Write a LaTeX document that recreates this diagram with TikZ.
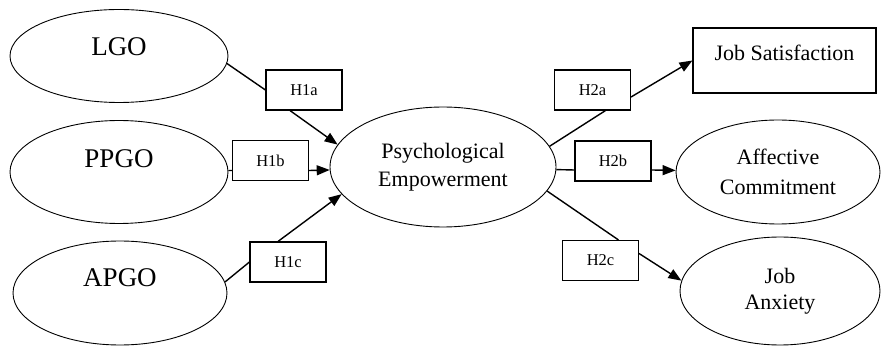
\documentclass[tikz,border=0pt]{standalone}
\usepackage{fontspec}
\setmainfont{Liberation Serif}
\usetikzlibrary{shapes.geometric,arrows.meta,calc}
\begin{document}
\begin{tikzpicture}[x=1pt,y=-1pt,
  ell/.style={ellipse,draw,line width=0.9pt,inner sep=0pt,align=center},
  big/.style={font=\fontsize{27}{30}\selectfont},
  med/.style={font=\fontsize{22}{28}\selectfont},
  hbox/.style={rectangle,draw,line width=1.1pt,minimum width=76pt,minimum height=40pt,inner sep=0pt,font=\fontsize{16.5}{18}\selectfont},
  con/.style={line width=1.4pt},
  arr/.style={con,-{Triangle[length=13pt,width=10pt]}}]
\useasboundingbox (0,0) rectangle (881,347);
% left constructs
\node[ell,big,minimum width=218pt,minimum height=93pt,text height=12pt,text depth=12pt] (lgo) at (119,56) {LGO};
\node[ell,big,minimum width=218pt,minimum height=103pt,text height=10pt,text depth=18pt] (ppgo) at (119,172) {PPGO};
\node[ell,big,minimum width=214pt,minimum height=104pt,text height=9pt,text depth=21pt] (apgo) at (120,293) {APGO};
% mediator
\node[ell,med,minimum width=226pt,minimum height=120pt] (psych) at (443,167) {Psychological\\Empowerment};
% outcomes
\node[rectangle,draw,line width=1.1pt,med,minimum width=183pt,minimum height=65pt,text height=10pt,text depth=10pt] (js) at (784.5,60.5) {Job Satisfaction};
\node[ell,med,minimum width=204pt,minimum height=104pt,font=\fontsize{22}{30}\selectfont] (ac) at (778,172) {Affective\\Commitment};
\node[ell,med,minimum width=200pt,minimum height=108pt,font=\fontsize{22}{26}\selectfont] (ja) at (780,291) {Job\\Anxiety};
% hypothesis boxes
\node[hbox] (h1a) at (304,90) {H1a};
\node[hbox] (h1b) at (270.5,160.5) {H1b};
\node[hbox] (h1c) at (288,262) {H1c};
\node[hbox] (h2a) at (592.5,90) {H2a};
\node[hbox] (h2b) at (613,161) {H2b};
\node[hbox] (h2c) at (600.5,260.5) {H2c};
% connectors
\draw[con] (lgo.-4) -- (h1a.west);
\draw[arr] ([xshift=-14pt]h1a.south) -- (psych.168);
\draw[con] (ppgo) -- ([yshift=-10pt]h1b.west);
\draw[arr] ([yshift=-10pt]h1b.east) -- (psych);
\draw[con] (apgo.6) -- (h1c.west);
\draw[arr] ([xshift=-10pt]h1c.north) -- (psych.195);
\draw[con] (psych.11) -- ([xshift=13pt]h2a.south);
\draw[arr] ([yshift=-7pt]h2a.east) -- (js.west);
\draw[con] (psych) -- ([yshift=-9pt]h2b.west);
\draw[arr] ([yshift=-9pt]h2b.east) -- (ac);
\draw[con] (psych.-13) -- ([xshift=18pt]h2c.north);
\draw[arr] ([yshift=7pt]h2c.east) -- (ja.174);
\end{tikzpicture}
\end{document}
